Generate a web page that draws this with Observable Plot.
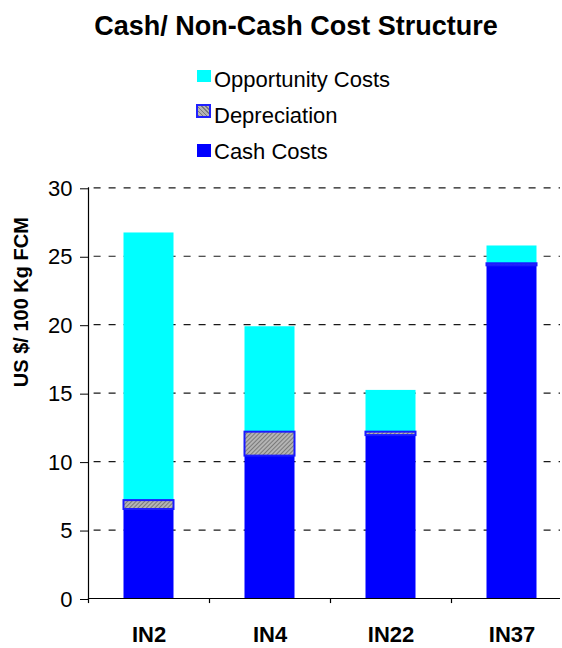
<!DOCTYPE html>
<html>
<head>
<meta charset="utf-8">
<script src="https://cdn.jsdelivr.net/npm/d3@7"></script>
<script src="https://cdn.jsdelivr.net/npm/@observablehq/plot@0.6"></script>
<style>
  body { margin: 0; background: #fff; font-family: "Liberation Sans", Arial, sans-serif; color: #000; }
  #wrap { width: 562px; position: relative; }
  #header { position: relative; height: 170px; }
  .title { position: absolute; left: 296px; top: 13px; transform: translateX(-50%); white-space: nowrap; font-weight: 700; font-size: 27px; line-height: 27px; }
  .lg-text { position: absolute; left: 214px; font-size: 22px; line-height: 22px; white-space: nowrap; }
  .sw { position: absolute; box-sizing: border-box; }
</style>
</head>
<body>
<div id="wrap">
  <div id="header">
    <div class="title">Cash/ Non-Cash Cost Structure</div>
    <div class="sw" style="left:197px;top:69.5px;width:14px;height:12.5px;background:#00ffff"></div>
    <div class="lg-text" style="top:69.4px">Opportunity Costs</div>
    <div class="sw" style="left:196px;top:104.3px;width:14.5px;height:14px;border:2px solid #2020ff;background:repeating-linear-gradient(45deg,#7a7a7a 0 1px,#b4b4b4 1px 3px)"></div>
    <div class="lg-text" style="top:105.4px">Depreciation</div>
    <div class="sw" style="left:197px;top:144.3px;width:14px;height:12.5px;background:#0000ff"></div>
    <div class="lg-text" style="top:141.4px">Cash Costs</div>
  </div>
  <div id="chart"></div>
</div>
<script>
const categories = ["IN2", "IN4", "IN22", "IN37"];
const cashCosts = [6.5, 10.4, 11.9, 24.3];
const depreciation = [0.65, 1.75, 0.25, 0.15];
const opportunityCosts = [19.55, 7.7, 3.05, 1.3];
const yTicks = [0, 5, 10, 15, 20, 25, 30];
const yTitle = "US $/ 100 Kg FCM";

const rows = categories.map((c, i) => ({
  cat: c,
  cash0: 0,
  cash1: cashCosts[i],
  dep0: cashCosts[i],
  dep1: cashCosts[i] + depreciation[i],
  opp0: cashCosts[i] + depreciation[i],
  opp1: cashCosts[i] + depreciation[i] + opportunityCosts[i]
}));

const inset = 35.5;
const svg = Plot.plot({
  width: 562,
  height: 478,
  marginTop: 17.3,
  marginBottom: 50,
  marginLeft: 88,
  marginRight: 2,
  style: { fontFamily: "'Liberation Sans', Arial, sans-serif", fontSize: "22px", color: "#000", background: "#fff", overflow: "visible" },
  x: { domain: categories, range: [88, 572], padding: 0 },
  y: { domain: [0, 30] },
  marks: [
    Plot.gridY(yTicks.filter(t => t > 0), { stroke: "#1a1a1a", strokeOpacity: 1, strokeWidth: 1.2, strokeDasharray: "7,8", strokeDashoffset: 9.4 }),
    Plot.barY(rows, { x: "cat", y1: "cash0", y2: "cash1", fill: "#0000ff", insetLeft: inset, insetRight: inset }),
    Plot.barY(rows, { x: "cat", y1: "opp0", y2: "opp1", fill: "#00ffff", insetLeft: inset, insetRight: inset }),
    Plot.barY(rows, { x: "cat", y1: "dep0", y2: "dep1", fill: "url(#hatch)", stroke: "#1a1aff", strokeWidth: 2, insetLeft: inset, insetRight: inset }),
    Plot.ruleY([0], { stroke: "#000", strokeWidth: 1.2 }),
    Plot.frame({ anchor: "left", stroke: "#000", strokeWidth: 1.2 }),
    Plot.ruleX(categories, { x: d => d, y1: 0, y2: -0.37, dx: -60.5, stroke: "#000", strokeWidth: 1.2 }),
    Plot.axisY({ ticks: yTicks, tickSize: 8, tickPadding: 8, label: null, fontSize: 22, dy: 1 }),
    Plot.axisX({ tickSize: 0, tickPadding: 28, label: null, fontSize: 22, fontWeight: "bold" }),
    Plot.text([yTitle], { frameAnchor: "left", rotate: -90, dx: -67, dy: -6, fontWeight: "bold", fontSize: 20, text: d => d })
  ]
});

const defs = d3.select(svg).insert("defs", ":first-child");
const pat = defs.append("pattern")
  .attr("id", "hatch")
  .attr("patternUnits", "userSpaceOnUse")
  .attr("width", 3).attr("height", 3)
  .attr("patternTransform", "rotate(45)");
pat.append("rect").attr("width", 3).attr("height", 3).attr("fill", "#b4b4b4");
pat.append("rect").attr("width", 1).attr("height", 3).attr("fill", "#7a7a7a");

document.getElementById("chart").appendChild(svg);
</script>
</body>
</html>
